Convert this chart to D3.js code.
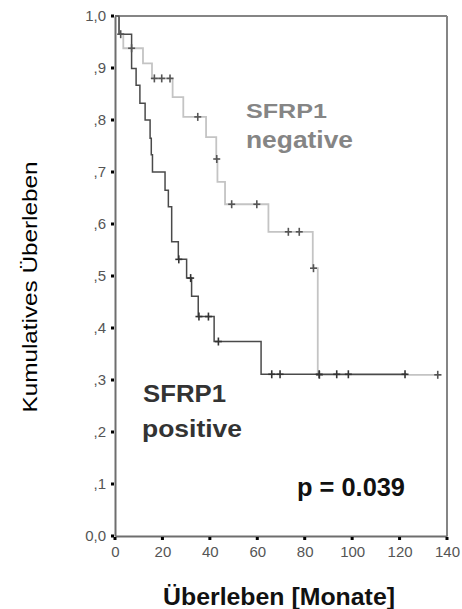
<!DOCTYPE html>
<html>
<head>
<meta charset="utf-8">
<script src="https://cdn.jsdelivr.net/npm/d3@7/dist/d3.min.js"></script>
<style>
  html, body { margin: 0; padding: 0; background: #fff; }
  svg { display: block; font-family: "Liberation Sans", Arial, sans-serif; }
</style>
</head>
<body>
<svg id="chart" width="462" height="609"></svg>
<script>
// Kaplan-Meier survival, SFRP1 positive vs. negative
// Step points: [month, cumulative survival after the event]
const positiveSteps = [
  [0, 1.0], [1.7, 0.965], [7.0, 0.899], [8.9, 0.867], [10.5, 0.832],
  [12.7, 0.800], [14.8, 0.765], [15.3, 0.733], [15.8, 0.700], [21.1, 0.665],
  [22.5, 0.633], [23.9, 0.566], [26.7, 0.532], [30.2, 0.496], [32.3, 0.461],
  [35.1, 0.422], [41.8, 0.374], [61.6, 0.311]
];
const positiveEnd = 123;
const positiveCensored = [26.9, 31.9, 35.4, 39.4, 43.6, 66.1, 69.6, 86.1, 93.5, 98.4, 122.3];

const negativeSteps = [
  [0, 1.0], [1.7, 0.965], [3.5, 0.938], [11.8, 0.909], [15.6, 0.880],
  [24.3, 0.844], [28.8, 0.806], [38.4, 0.767], [42.7, 0.725], [43.2, 0.681],
  [46.4, 0.638], [64.7, 0.585], [83.4, 0.515], [85.5, 0.310]
];
const negativeEnd = 137.8;
const negativeCensored = [2.4, 7.0, 16.6, 19.7, 23.2, 34.9, 42.9, 49.2, 59.8, 73.1, 77.7, 83.7, 86.2, 136.1];

const xTicks = [0, 20, 40, 60, 80, 100, 120, 140];
const yTicks = [0, 0.1, 0.2, 0.3, 0.4, 0.5, 0.6, 0.7, 0.8, 0.9, 1.0];

const svg = d3.select("#chart");
const x = d3.scaleLinear().domain([0, 140]).range([115, 447]);
const y = d3.scaleLinear().domain([0, 1]).range([536, 16]);

// Survival value in effect at time t (right-continuous step function)
function survivalAt(steps, t) {
  let s = steps[0][1];
  for (const [time, v] of steps) { if (time <= t) s = v; }
  return s;
}

// Frame: top and right border
svg.append("line").attr("x1", x(0)).attr("x2", x(140)).attr("y1", y(1)).attr("y2", y(1))
  .attr("stroke", "#858585").attr("stroke-width", 2);
svg.append("line").attr("x1", x(140)).attr("x2", x(140)).attr("y1", y(1)).attr("y2", y(0))
  .attr("stroke", "#858585").attr("stroke-width", 2);

// Axes
const fmtY = v => v === 0 ? "0,0" : v === 1 ? "1,0" : "," + Math.round(v * 10);
const yAxis = d3.axisLeft(y).tickValues(yTicks).tickFormat(fmtY).tickSize(0).tickPadding(9);
const xAxis = d3.axisBottom(x).tickValues(xTicks).tickFormat(d3.format("d")).tickSize(0).tickPadding(10);

const gy = svg.append("g").attr("transform", `translate(${x(0)},0)`).call(yAxis);
const gx = svg.append("g").attr("transform", `translate(0,${y(0)})`).call(xAxis);
[gy, gx].forEach(g => {
  g.select(".domain").attr("stroke", "#6e6e6e").attr("stroke-width", 2);
  g.selectAll("text").attr("fill", "#555").style("font-size", "15px")
    .style("font-family", "'Liberation Sans', Arial, sans-serif");
});
gx.selectAll("text").attr("dy", "0.71em");

// Square tick marks
svg.append("g").selectAll("rect").data(yTicks).join("rect")
  .attr("x", x(0) - 4).attr("y", d => y(d) - 1.5).attr("width", 3).attr("height", 3).attr("fill", "#000");
svg.append("g").selectAll("rect").data(xTicks).join("rect")
  .attr("x", d => x(d) - 1.5).attr("y", y(0) + 1).attr("width", 3).attr("height", 3).attr("fill", "#000");

// Curves
function drawCurve(steps, end, color, width) {
  const pts = steps.map(d => [d[0], d[1]]).concat([[end, steps[steps.length - 1][1]]]);
  const line = d3.line().x(d => x(d[0])).y(d => y(d[1])).curve(d3.curveStepAfter);
  svg.append("path").datum(pts).attr("d", line)
    .attr("fill", "none").attr("stroke", color).attr("stroke-width", width);
}
function drawCensors(steps, times, color) {
  const g = svg.append("g").attr("stroke", color).attr("stroke-width", 1.6);
  times.forEach(t => {
    const cx = x(t), cy = y(survivalAt(steps, t));
    g.append("line").attr("x1", cx).attr("x2", cx).attr("y1", cy - 4).attr("y2", cy + 4);
    g.append("line").attr("x1", cx - 3.5).attr("x2", cx + 3.5).attr("y1", cy).attr("y2", cy);
  });
}

drawCurve(negativeSteps, negativeEnd, "#c4c4c4", 1.8);
drawCurve(positiveSteps, positiveEnd, "#4a4a4a", 1.5);
drawCensors(negativeSteps, negativeCensored, "#555");
drawCensors(positiveSteps, positiveCensored, "#333");

// Group labels
function label(txt, px, py, size, len, color) {
  svg.append("text").attr("x", px).attr("y", py).text(txt)
    .attr("fill", color).style("font-size", size + "px").style("font-weight", "bold")
    .attr("textLength", len).attr("lengthAdjust", "spacingAndGlyphs");
}
label("SFRP1", 246, 118, 21, 81, "#858585");
label("negative", 246, 148, 23, 107, "#858585");
label("SFRP1", 143, 402, 23, 83, "#333");
label("positive", 142, 437, 23, 100, "#333");

// p-value
svg.append("text").attr("x", 297).attr("y", 496).text("p = 0.039")
  .attr("fill", "#111").style("font-size", "25px").style("font-weight", "bold")
  .attr("textLength", 108).attr("lengthAdjust", "spacingAndGlyphs");

// Axis titles
svg.append("text").attr("transform", "translate(36.5,287) rotate(-90)")
  .attr("text-anchor", "middle").text("Kumulatives Überleben")
  .attr("fill", "#000").style("font-size", "20px")
  .attr("textLength", 251).attr("lengthAdjust", "spacingAndGlyphs");
svg.append("text").attr("x", 279).attr("y", 605)
  .attr("text-anchor", "middle").text("Überleben [Monate]")
  .attr("fill", "#111").style("font-size", "24px").style("font-weight", "bold")
  .attr("textLength", 232).attr("lengthAdjust", "spacingAndGlyphs");
</script>
</body>
</html>
